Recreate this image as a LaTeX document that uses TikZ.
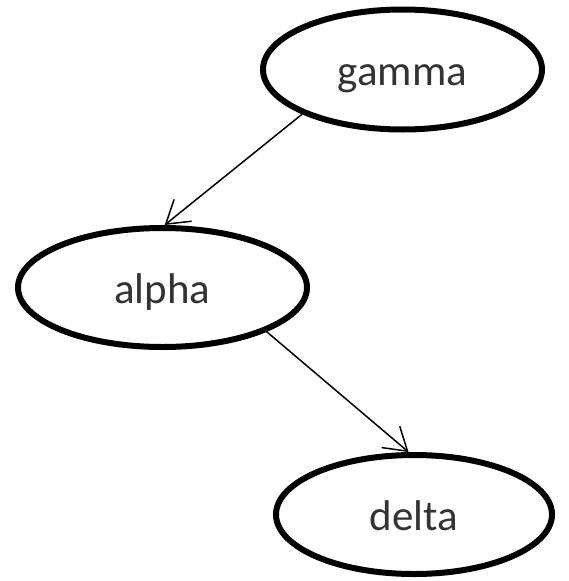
\documentclass[tikz,border=0pt]{standalone}
\usepackage{fontspec}
\setmainfont{Carlito}
\usetikzlibrary{shapes.geometric,arrows.meta}
\begin{document}
\begin{tikzpicture}[x=1pt,y=1pt,
  oval/.style={ellipse, draw=black, line width=6pt, inner sep=0pt,
    text=black!80, font=\fontsize{43}{50}\selectfont,
    text height=42pt, text depth=10pt},
  link/.style={line width=1.5pt, -{Straight Barb[length=22pt,width=28pt,line width=1.5pt]}}]
  \useasboundingbox (0,0) rectangle (568,-581);
  \node[oval, minimum width=279pt, minimum height=120pt] (gamma) at (402.5,-69.5) {gamma};
  \node[oval, minimum width=289pt, minimum height=119pt] (alpha) at (162.5,-287.5) {alpha};
  \node[oval, minimum width=276pt, minimum height=119pt] (delta) at (414,-514.5) {delta};
  \draw[link] (gamma.204) -- (alpha.88);
  \draw[link] (alpha.-23) -- (delta.95);
\end{tikzpicture}
\end{document}
